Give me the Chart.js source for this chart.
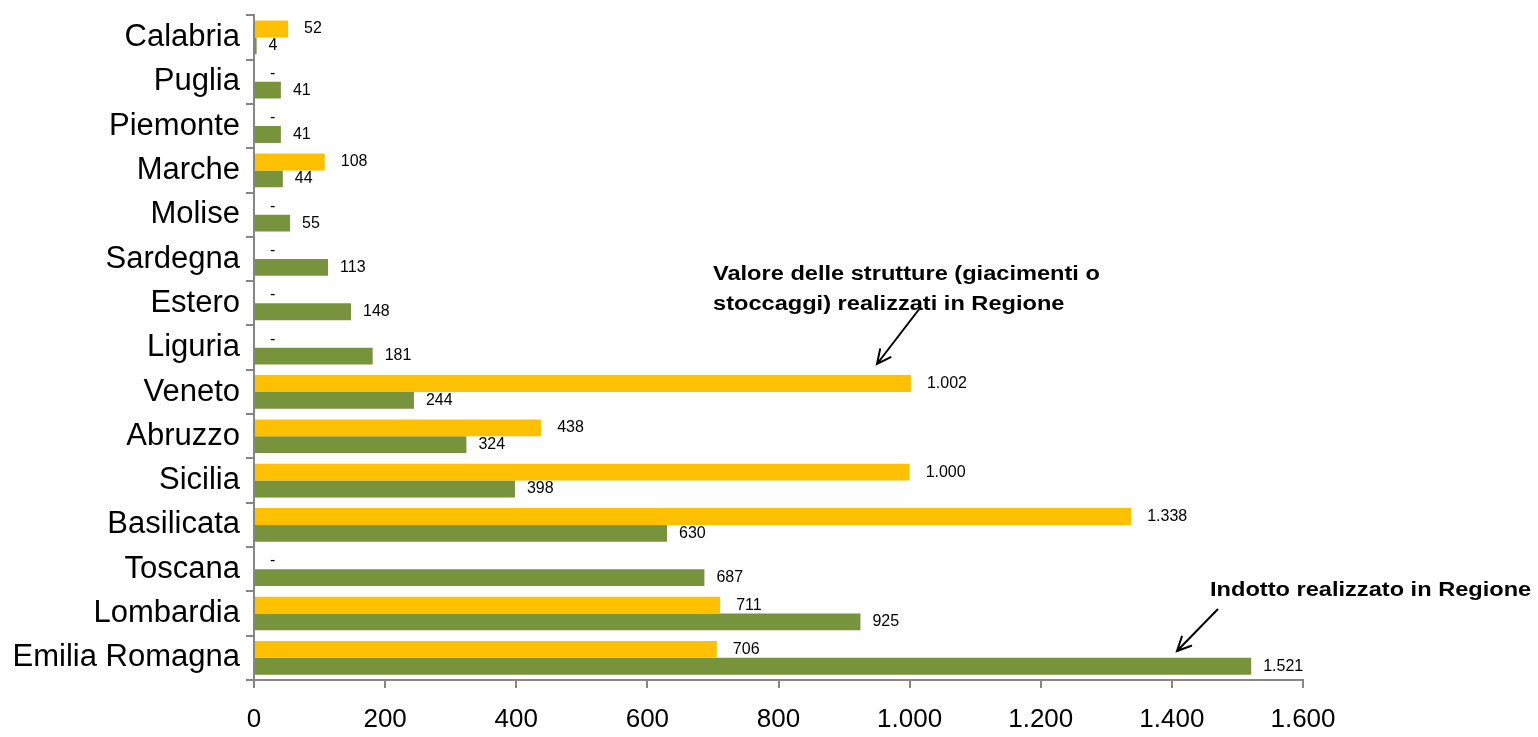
<!DOCTYPE html>
<html>
<head>
<meta charset="utf-8">
<script src="https://cdn.jsdelivr.net/npm/chart.js@4.4.1/dist/chart.umd.min.js"></script>
<style>
  html, body { margin: 0; padding: 0; background: #fff; }
  #wrap { width: 1538px; height: 737px; position: relative; }
</style>
</head>
<body>
<div id="wrap"><canvas id="regionChart"></canvas></div>
<script>
// data (top to bottom)
const regions = [
  "Calabria", "Puglia", "Piemonte", "Marche", "Molise", "Sardegna", "Estero",
  "Liguria", "Veneto", "Abruzzo", "Sicilia", "Basilicata", "Toscana",
  "Lombardia", "Emilia Romagna",
];
const valoreStrutture = [52, 0, 0, 108, 0, 0, 0, 0, 1002, 438, 1000, 1338, 0, 711, 706];
const indotto = [4, 41, 41, 44, 55, 113, 148, 181, 244, 324, 398, 630, 687, 925, 1521];
const xTicks = [0, 200, 400, 600, 800, 1000, 1200, 1400, 1600];

const FONT = "'Liberation Sans', Arial, Helvetica, sans-serif";
const AXIS_GREY = "#868686";

// italian thousands separator: 1521 -> 1.521
function itNum(v) {
  return String(v).replace(/\B(?=(\d{3})+(?!\d))/g, ".");
}

// value labels at the end of every bar, "-" for zero
const valueLabels = {
  id: "valueLabels",
  afterDatasetsDraw(chart) {
    const ctx = chart.ctx;
    ctx.save();
    ctx.font = "16px " + FONT;
    ctx.fillStyle = "#000";
    ctx.textAlign = "left";
    ctx.textBaseline = "middle";
    chart.data.datasets.forEach((ds, i) => {
      const gap = i === 0 ? 16 : 12;
      chart.getDatasetMeta(i).data.forEach((bar, j) => {
        const v = ds.data[j];
        const txt = v === 0 ? "-" : itNum(v);
        ctx.fillText(txt, bar.x + gap, bar.y);
      });
    });
    ctx.restore();
  },
};

function arrow(ctx, x1, y1, x2, y2) {
  const ang = Math.atan2(y2 - y1, x2 - x1);
  const head = 16;
  ctx.beginPath();
  ctx.moveTo(x1, y1);
  ctx.lineTo(x2, y2);
  ctx.moveTo(x2 - head * Math.cos(ang - 0.45), y2 - head * Math.sin(ang - 0.45));
  ctx.lineTo(x2, y2);
  ctx.lineTo(x2 - head * Math.cos(ang + 0.45), y2 - head * Math.sin(ang + 0.45));
  ctx.stroke();
}

// text a bit stretched sideways, like the original
function wideText(ctx, txt, x, y, sx) {
  ctx.save();
  ctx.translate(x, y);
  ctx.scale(sx, 1);
  ctx.fillText(txt, 0, 0);
  ctx.restore();
}

// the two callouts
const callouts = {
  id: "callouts",
  afterDraw(chart) {
    const ctx = chart.ctx;
    ctx.save();
    ctx.fillStyle = "#000";
    ctx.strokeStyle = "#000";
    ctx.lineWidth = 2;
    ctx.font = "bold 20px " + FONT;
    ctx.textAlign = "left";
    ctx.textBaseline = "alphabetic";
    wideText(ctx, "Valore delle strutture (giacimenti o", 713, 280, 1.18);
    wideText(ctx, "stoccaggi) realizzati in Regione", 713, 310, 1.18);
    arrow(ctx, 920, 308, 877, 364);
    wideText(ctx, "Indotto realizzato in Regione", 1210, 596, 1.18);
    arrow(ctx, 1218, 609, 1177, 651);
    ctx.restore();
  },
};

new Chart(document.getElementById("regionChart").getContext("2d"), {
  type: "bar",
  data: {
    labels: regions,
    datasets: [
      {
        label: "Valore delle strutture (giacimenti o stoccaggi) realizzati in Regione",
        data: valoreStrutture,
        backgroundColor: "#FFC000",
        categoryPercentage: 0.76,
        barPercentage: 1,
      },
      {
        label: "Indotto realizzato in Regione",
        data: indotto,
        backgroundColor: "#77933C",
        categoryPercentage: 0.76,
        barPercentage: 1,
      },
    ],
  },
  options: {
    indexAxis: "y",
    responsive: true,
    maintainAspectRatio: false,
    animation: false,
    layout: { padding: { top: 10, right: 235, left: 0, bottom: 0 } },
    scales: {
      x: {
        min: xTicks[0],
        max: xTicks[xTicks.length - 1],
        afterBuildTicks: (scale) => {
          scale.ticks = xTicks.map((v) => ({ value: v }));
        },
        afterFit: (scale) => {
          scale.height = 57;
        },
        grid: {
          drawOnChartArea: false,
          drawTicks: true,
          tickLength: 8,
          color: AXIS_GREY,
          lineWidth: 2,
        },
        border: { color: AXIS_GREY, width: 2 },
        ticks: {
          padding: 16,
          color: "#000",
          font: { size: 26, family: FONT },
          callback: (v) => itNum(v),
          maxRotation: 0,
        },
      },
      y: {
        afterFit: (scale) => {
          scale.width = 254;
        },
        grid: {
          drawOnChartArea: false,
          drawTicks: true,
          tickLength: 8,
          color: AXIS_GREY,
          lineWidth: 2,
        },
        border: { color: AXIS_GREY, width: 2 },
        ticks: {
          padding: 6,
          color: "#000",
          font: { size: 31, family: FONT, lineHeight: 0.6 },
          autoSkip: false,
        },
      },
    },
    plugins: {
      legend: { display: false },
      tooltip: { enabled: false },
    },
  },
  plugins: [valueLabels, callouts],
});
</script>
</body>
</html>
